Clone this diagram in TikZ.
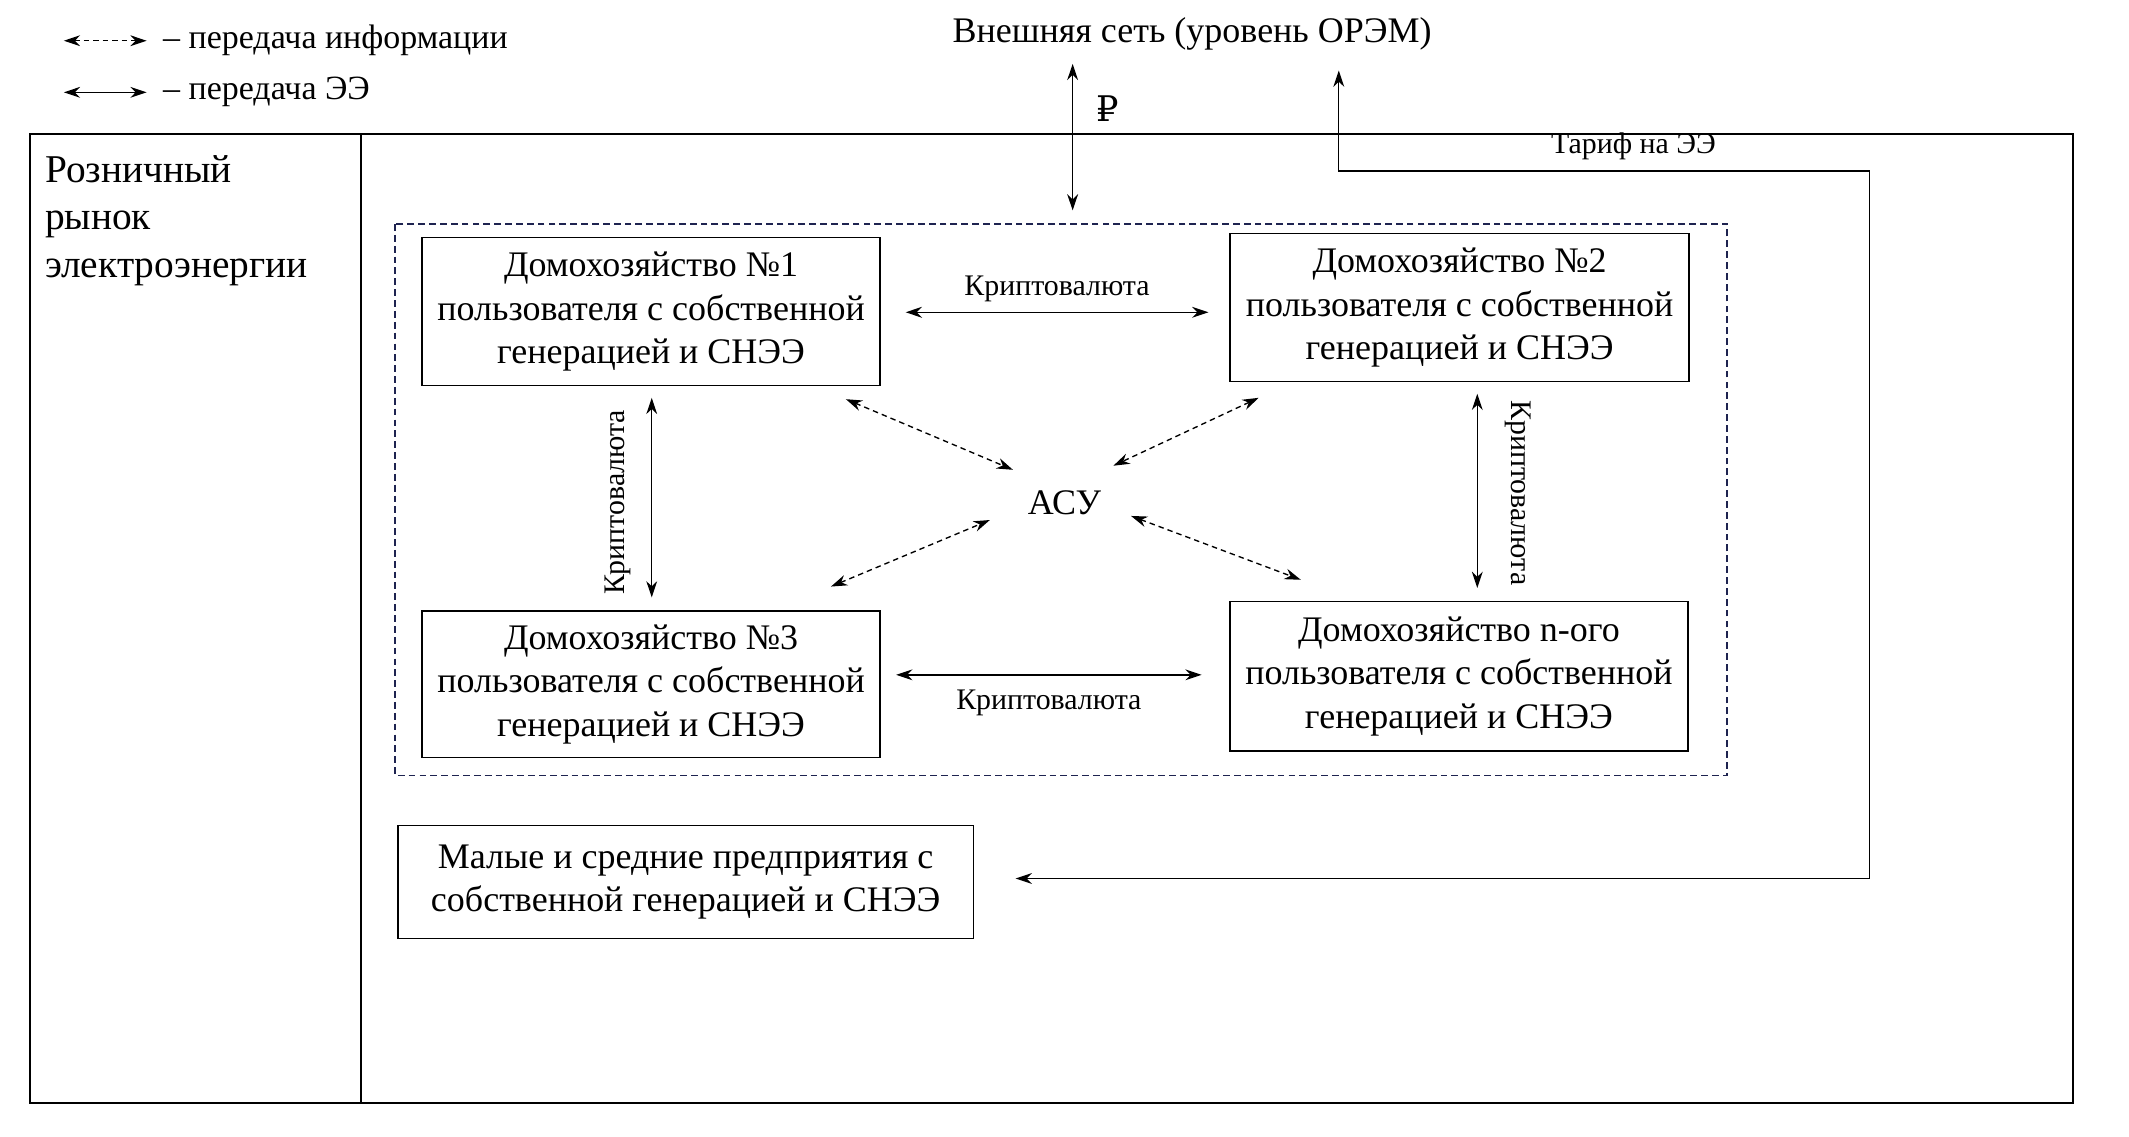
\documentclass[tikz,border=0pt]{standalone}
\usepackage{fontspec}
\setmainfont{Liberation Serif}
\newfontfamily\rub{DejaVu Serif}
\usetikzlibrary{arrows.meta}
\begin{document}
\begin{tikzpicture}[x=1pt,y=-1pt,
 box/.style={draw,line width=1.2pt,align=center,font=\fontsize{26.5}{32}\selectfont,inner sep=0},
 lab/.style={font=\fontsize{22}{24}\selectfont,inner sep=1pt},
 both/.style={{Stealth[length=12pt,width=8pt]}-{Stealth[length=12pt,width=8pt]},line width=1pt},
 dboth/.style={both,dashed,dash pattern=on 4pt off 3pt}]
\useasboundingbox (0,0) rectangle (1568,837);
\draw[line width=1.5pt] (22,99) rectangle (1527,812);
\draw[line width=1pt] (266,99) -- (266,812);
\draw[line width=1pt,dash pattern=on 5pt off 3pt,color={rgb,255:red,30;green,35;blue,80}] (291,165) rectangle (1272,571);
\node[box,minimum width=337,minimum height=109] (b1) at (479.5,229.5) {Домохозяйство №1\\пользователя с собственной\\генерацией и СНЭЭ};
\node[box,minimum width=338,minimum height=109] (b2) at (1075,226.5) {Домохозяйство №2\\пользователя с собственной\\генерацией и СНЭЭ};
\node[box,minimum width=337,minimum height=108] (b3) at (479.5,504) {Домохозяйство №3\\пользователя с собственной\\генерацией и СНЭЭ};
\node[box,minimum width=337,minimum height=110] (b4) at (1074.5,498) {Домохозяйство n-ого\\пользователя с собственной\\генерацией и СНЭЭ};
\node[box,line width=1pt,minimum width=424,minimum height=83] (sme) at (505,649.5) {Малые и средние предприятия с\\собственной генерацией и СНЭЭ};
\node[font=\fontsize{26.5}{28}\selectfont] (asu) at (784,370) {АСУ};
\node[font=\fontsize{26.5}{28}\selectfont] (ext) at (878,25) {Внешняя сеть (уровень ОРЭМ)};
\node[align=left,anchor=north west,font=\fontsize{29}{35}\selectfont,inner sep=0] (rr) at (33,114) {Розничный\\рынок\\электроэнергии};
\coordinate (r1) at (790,47); \coordinate (r2) at (790,155);
\draw[both] (r1) -- (r2);
\node[font=\rub\fontsize{26}{28}\selectfont] (rub) at (816,80) {₽};
\coordinate (t0) at (748,647); \coordinate (t1) at (1377,647); \coordinate (t2) at (1377,126);
\coordinate (t3) at (986,126); \coordinate (t4) at (986,52);
\draw[both] (t0) -- (t1) -- (t2) -- (t3) -- (t4);
\node[lab] (tl) at (1203,108) {Тариф на ЭЭ};
\coordinate (h1a) at (667,230); \coordinate (h1b) at (890,230);
\draw[both] (h1a) -- (h1b) node[lab,midway,above=6pt] (k1) {Криптовалюта};
\coordinate (h2a) at (660,497); \coordinate (h2b) at (885,497);
\draw[both] (h2a) -- (h2b) node[lab,midway,below=10pt] (k2) {Криптовалюта};
\coordinate (v1a) at (480,293); \coordinate (v1b) at (480,440);
\draw[both] (v1a) -- (v1b);
\node[lab,rotate=90] (k3) at (455,370) {Криптовалюта};
\coordinate (v2a) at (1088,290); \coordinate (v2b) at (1088,433);
\draw[both] (v2a) -- (v2b);
\node[lab,rotate=-90] (k4) at (1118,363) {Криптовалюта};
\coordinate (d1a) at (623,294); \coordinate (d1b) at (746,346);
\coordinate (d2a) at (927,293); \coordinate (d2b) at (820,343);
\coordinate (d3a) at (612,432); \coordinate (d3b) at (729,383);
\coordinate (d4a) at (833,380); \coordinate (d4b) at (958,427);
\draw[dboth] (d1a) -- (d1b);
\draw[dboth] (d2a) -- (d2b);
\draw[dboth] (d3a) -- (d3b);
\draw[dboth] (d4a) -- (d4b);
\coordinate (la) at (47,30); \coordinate (lb) at (108,30);
\coordinate (lc) at (47,68); \coordinate (ld) at (108,68);
\draw[dboth] (la) -- (lb);
\draw[both] (lc) -- (ld);
\node[anchor=west,font=\fontsize{25}{26}\selectfont,inner sep=0] (l1) at (120,30) {– передача информации};
\node[anchor=west,font=\fontsize{25}{26}\selectfont,inner sep=0] (l2) at (120,68) {– передача ЭЭ};
\end{tikzpicture}
\end{document}
